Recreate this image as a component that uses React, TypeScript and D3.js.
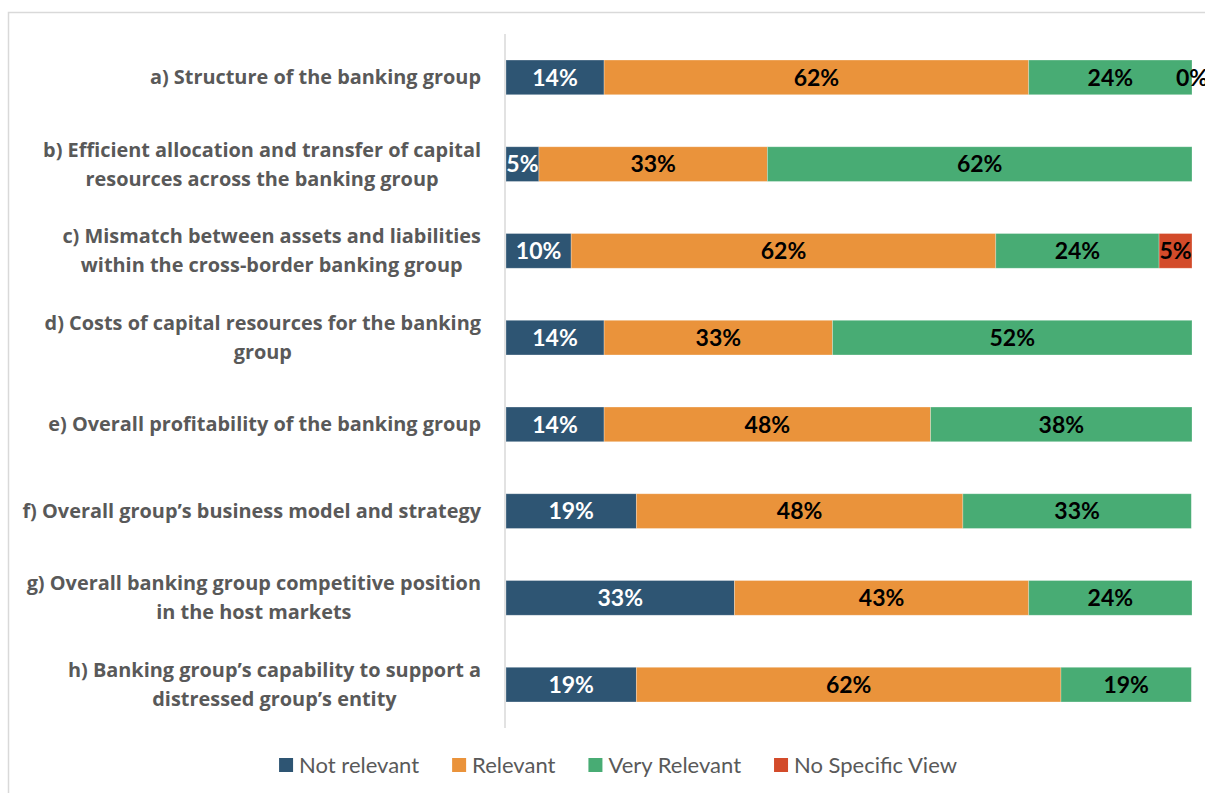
import { useEffect, useRef } from 'react';
import * as d3 from 'd3';

const categories = [
  ['a) Structure of the banking group'],
  ['b) Efficient allocation and transfer of capital', 'resources across the banking group'],
  ['c) Mismatch between assets and liabilities', 'within the cross-border banking group'],
  ['d) Costs of capital resources for the banking', 'group'],
  ['e) Overall profitability of the banking group'],
  ['f) Overall group\u2019s business model and strategy'],
  ['g) Overall banking group competitive position', 'in the host markets'],
  ['h) Banking group\u2019s capability to support a', 'distressed group\u2019s entity'],
];

const seriesNames = ['Not relevant', 'Relevant', 'Very Relevant', 'No Specific View'];
const seriesColors = ['#2E5573', '#EA933B', '#48AC74', '#D34B2A'];
const labelColors = ['#FFFFFF', '#000000', '#000000', '#000000'];

// shares in %, null = no answer shown
const notRelevant = [14.3, 4.8, 9.5, 14.3, 14.3, 19.0, 33.3, 19.0];
const relevant = [61.9, 33.3, 61.9, 33.3, 47.6, 47.6, 42.9, 61.9];
const veryRelevant = [23.8, 61.9, 23.8, 52.4, 38.1, 33.3, 23.8, 19.0];
const noSpecificView: (number | null)[] = [0, null, 4.8, null, null, null, null, null];

const WIDTH = 1205;
const HEIGHT = 793;
const FONT = 'Lato, "Open Sans", sans-serif';
const LABEL_FONT = '"Open Sans", Lato, sans-serif';

export default function App() {
  const svgRef = useRef<SVGSVGElement>(null);

  useEffect(() => {
    if (!svgRef.current) return;
    const svg = d3.select(svgRef.current);
    svg.selectAll('*').remove();

    const plot = { left: 505, right: 1192, top: 34, bottom: 728 };

    // chart frame
    svg.append('rect')
      .attr('x', 8.5)
      .attr('y', 12.5)
      .attr('width', WIDTH)
      .attr('height', HEIGHT)
      .attr('fill', '#fff')
      .attr('stroke', '#D9D9D9')
      .attr('stroke-width', 1.5);

    const keys = categories.map((_, i) => String(i));
    const y = d3.scaleBand<string>()
      .domain(keys)
      .range([plot.top, plot.bottom])
      .paddingInner(0.6)
      .paddingOuter(0.3);

    const x = d3.scaleLinear().domain([0, 100]).range([plot.left + 1, plot.right]);

    const series = [notRelevant, relevant, veryRelevant, noSpecificView];

    // bars
    keys.forEach((k, i) => {
      let acc = 0;
      const row = svg.append('g');
      series.forEach((vals, s) => {
        const v = vals[i];
        if (v === null || v === undefined) return;
        const x0 = x(acc);
        const x1 = x(acc + v);
        acc += v;
        row.append('rect')
          .attr('x', x0)
          .attr('y', y(k)!)
          .attr('width', Math.max(0, x1 - x0))
          .attr('height', y.bandwidth())
          .attr('fill', seriesColors[s])
          .attr('stroke', '#ffffff')
          .attr('stroke-opacity', 0.35)
          .attr('stroke-width', 0.75);
        row.append('text')
          .attr('x', (x0 + x1) / 2)
          .attr('y', y(k)! + y.bandwidth() / 2)
          .attr('dy', '0.36em')
          .attr('text-anchor', 'middle')
          .attr('font-family', FONT)
          .attr('font-weight', 700)
          .attr('font-size', 23)
          .attr('fill', labelColors[s])
          .text(`${Math.round(v)}%`);
      });
    });

    // vertical axis line
    svg.append('line')
      .attr('x1', plot.left)
      .attr('x2', plot.left)
      .attr('y1', plot.top)
      .attr('y2', plot.bottom)
      .attr('stroke', '#D9D9D9')
      .attr('stroke-width', 1.5);

    // category labels
    const labelRight = 481;
    const lineGap = 29;
    keys.forEach((k, i) => {
      const lines = categories[i];
      const cy = y(k)! + y.bandwidth() / 2;
      const g = svg.append('g');
      const texts = lines.map((line, j) =>
        g.append('text')
          .attr('y', cy + (j - (lines.length - 1) / 2) * lineGap)
          .attr('dy', '0.35em')
          .attr('font-family', LABEL_FONT)
          .attr('font-weight', 700)
          .attr('font-size', 19.9)
          .attr('fill', '#595959')
          .text(line)
      );
      const widths = texts.map(t => (t.node() as SVGTextElement).getComputedTextLength());
      const maxW = d3.max(widths) ?? 0;
      texts.forEach(t => t.attr('x', labelRight - maxW / 2).attr('text-anchor', 'middle'));
    });

    // legend
    const legend = svg.append('g');
    let lx = 0;
    seriesNames.forEach((name, s) => {
      const item = legend.append('g').attr('transform', `translate(${lx},0)`);
      item.append('rect')
        .attr('x', 0)
        .attr('y', -7)
        .attr('width', 14)
        .attr('height', 14)
        .attr('fill', seriesColors[s]);
      const t = item.append('text')
        .attr('x', 20)
        .attr('dy', '0.35em')
        .attr('font-family', FONT)
        .attr('font-size', 22)
        .attr('fill', '#595959')
        .text(name);
      lx += 20 + (t.node() as SVGTextElement).getComputedTextLength() + 33;
    });
    const legendW = lx - 33;
    legend.attr('transform', `translate(${618 - legendW / 2},765)`);
  }, []);

  return (
    <svg
      ref={svgRef}
      width={WIDTH}
      height={HEIGHT}
      style={{ position: 'fixed', left: 0, top: 0, display: 'block', background: '#fff' }}
    />
  );
}
